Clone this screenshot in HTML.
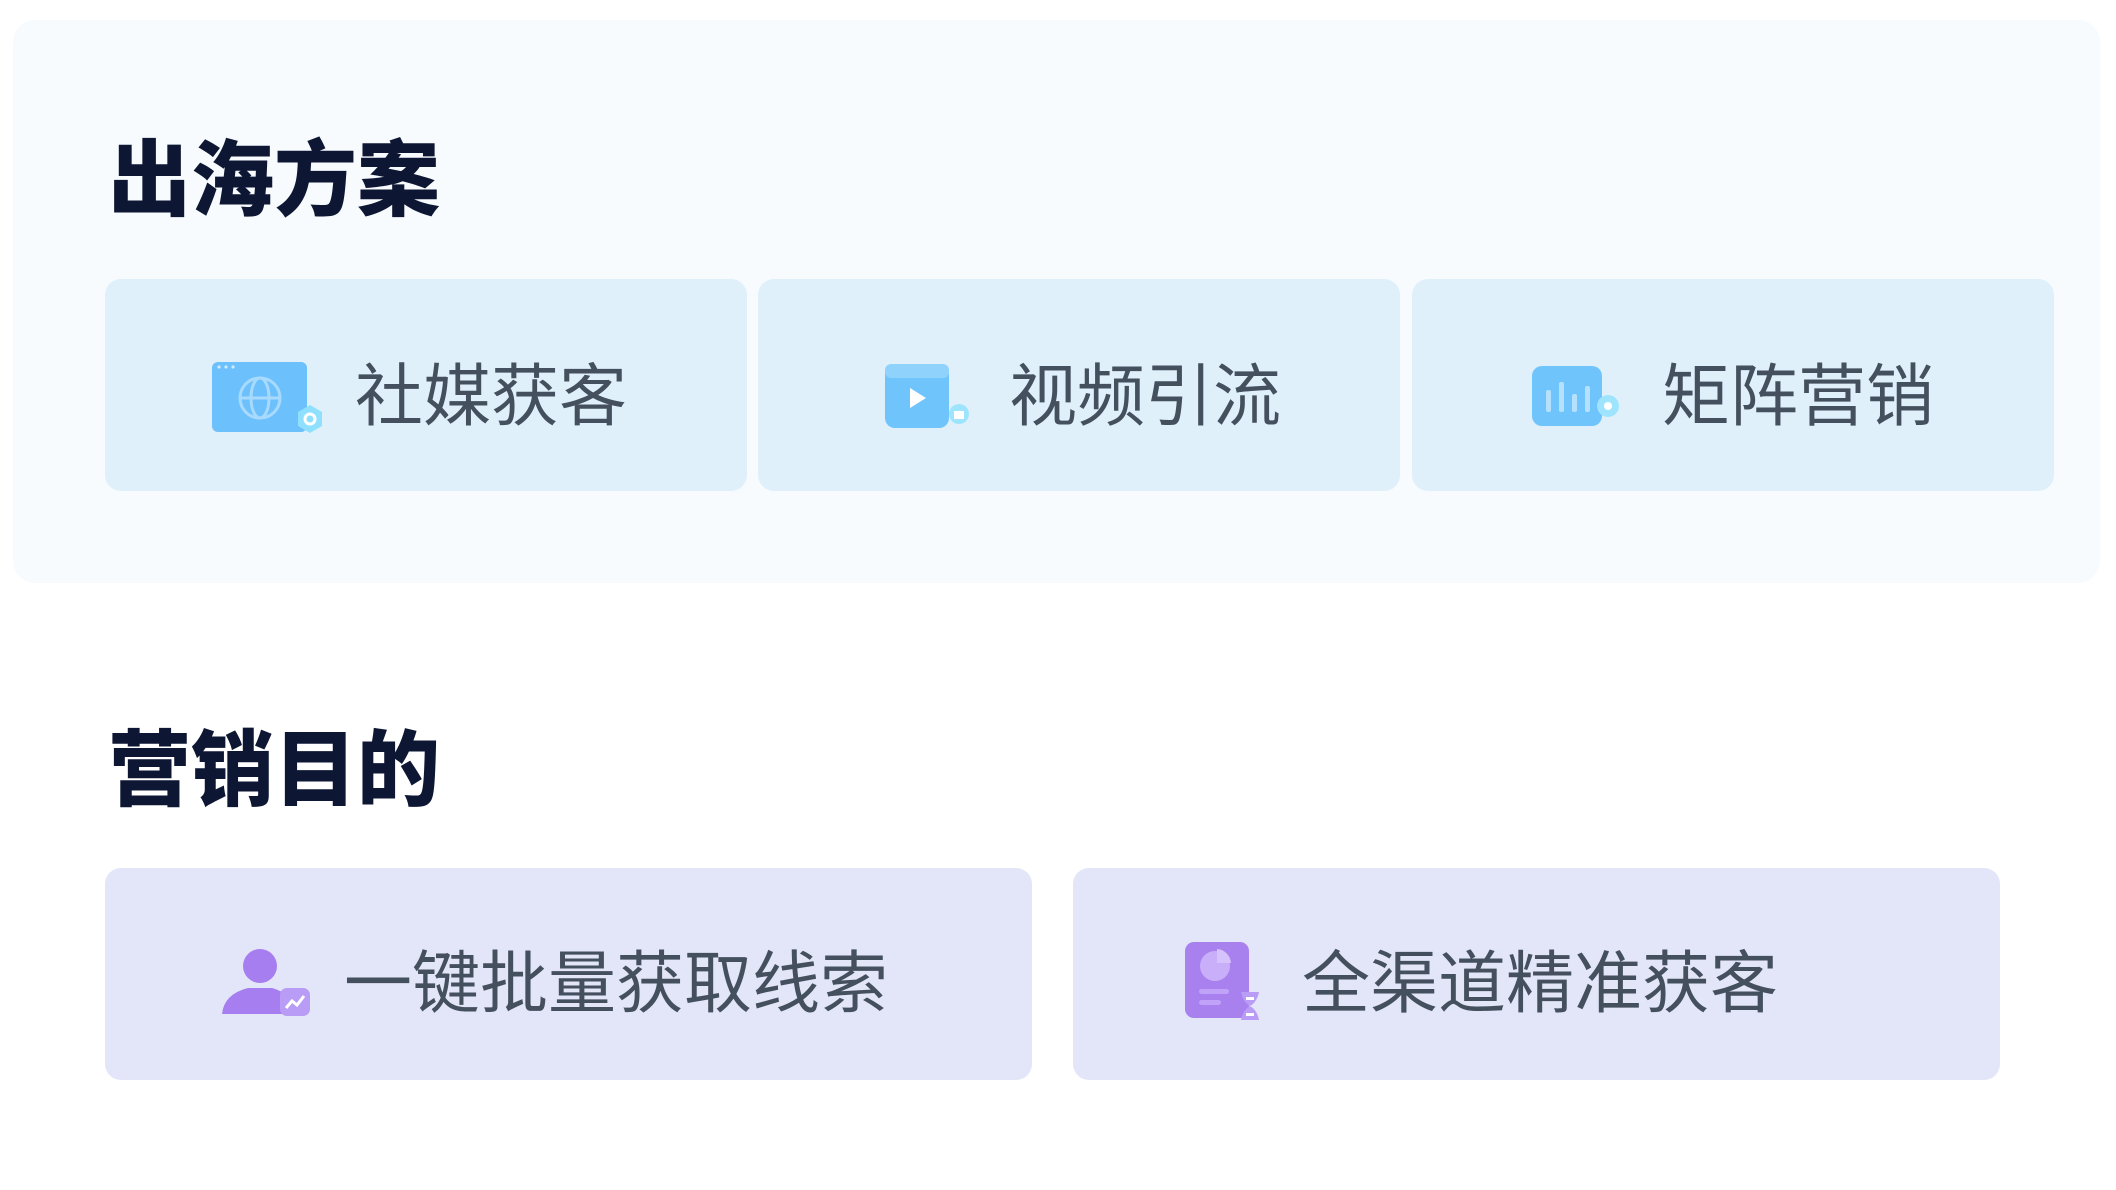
<!DOCTYPE html>
<html><head><meta charset="utf-8"><style>
*{margin:0;padding:0;box-sizing:border-box}
body{width:2116px;height:1190px;background:#fff;position:relative;overflow:hidden;font-family:"Liberation Sans","Noto Sans CJK SC",sans-serif}
.panel{position:absolute;left:13px;top:20px;width:2087px;height:563px;background:#f7fbfe;border-radius:22px}
.h{position:absolute;left:108px;font-size:83px;font-weight:900;color:#0d1633;line-height:1}
.card{position:absolute;border-radius:16px}
.b{background:#dff0fb;top:279px;height:212px;width:642px}
.p{background:#e3e6f8;top:868px;height:212px;width:927px}
.t{position:absolute;font-size:68px;color:#45505f;line-height:1;white-space:nowrap}
svg{position:absolute}
</style></head><body>
<div class="panel"></div>
<div class="h" style="top:139px">出海方案</div>
<div class="card b" style="left:105px"></div>
<div class="card b" style="left:758px"></div>
<div class="card b" style="left:1412px"></div>
<div class="h" style="top:729px">营销目的</div>
<div class="card p" style="left:105px"></div>
<div class="card p" style="left:1073px"></div>

<svg style="left:210px;top:360px" width="120" height="76" viewBox="0 0 120 76">
<rect x="2" y="2" width="95" height="70" rx="6" fill="#6cc0fb"/>
<circle cx="9" cy="7" r="1.6" fill="#cfeaff"/><circle cx="16" cy="7" r="1.6" fill="#cfeaff"/><circle cx="23" cy="7" r="1.6" fill="#cfeaff"/>
<circle cx="50" cy="38" r="20" fill="none" stroke="#a8dafd" stroke-width="3"/>
<ellipse cx="50" cy="38" rx="9" ry="20" fill="none" stroke="#a8dafd" stroke-width="3"/>
<line x1="30" y1="38" x2="70" y2="38" stroke="#a8dafd" stroke-width="3"/>
<polygon points="100,45 112,52 112,66 100,73 88,66 88,52" fill="#8fe0ff"/>
<circle cx="100" cy="59" r="5" fill="none" stroke="#fff" stroke-width="3"/>
</svg>
<div class="t" style="left:355px;top:363px">社媒获客</div>

<svg style="left:882px;top:362px" width="90" height="70" viewBox="0 0 90 70">
<rect x="3" y="2" width="64" height="64" rx="10" fill="#6fc4fb"/>
<rect x="3" y="2" width="64" height="14" rx="6" fill="#8fd2fc"/>
<polygon points="28,26 28,46 44,36" fill="#fff"/>
<circle cx="77" cy="52" r="10" fill="#9fe4ff"/>
<rect x="72" y="49" width="10" height="8" fill="#fff"/>
</svg>
<div class="t" style="left:1009px;top:363px">视频引流</div>

<svg style="left:1530px;top:364px" width="95" height="66" viewBox="0 0 95 66">
<rect x="2" y="2" width="70" height="60" rx="10" fill="#6fc4fb"/>
<rect x="16" y="26" width="5" height="22" rx="2" fill="#b5e1fd"/>
<rect x="29" y="18" width="5" height="30" rx="2" fill="#b5e1fd"/>
<rect x="42" y="30" width="5" height="18" rx="2" fill="#b5e1fd"/>
<rect x="55" y="22" width="5" height="26" rx="2" fill="#b5e1fd"/>
<circle cx="78" cy="42" r="11" fill="#9fe4ff"/><circle cx="78" cy="42" r="4" fill="#fff"/>
</svg>
<div class="t" style="left:1662px;top:363px">矩阵营销</div>

<svg style="left:218px;top:940px" width="95" height="80" viewBox="0 0 95 80">
<circle cx="42" cy="26" r="17" fill="#a77ef0"/>
<path d="M4 74 Q6 54 30 48 L54 48 Q76 54 80 74 Z" fill="#a77ef0"/>
<rect x="62" y="48" width="30" height="28" rx="7" fill="#b99cf5"/>
<polyline points="68,68 74,61 79,65 86,56" fill="none" stroke="#fff" stroke-width="3"/>
</svg>
<div class="t" style="left:344px;top:950px">一键批量获取线索</div>

<svg style="left:1183px;top:940px" width="82" height="82" viewBox="0 0 82 82">
<rect x="2" y="2" width="64" height="76" rx="9" fill="#a981ef"/>
<circle cx="32" cy="26" r="15" fill="#c9affa"/>
<path d="M34 9 A15 15 0 0 1 48 23 L34 23 Z" fill="#d6c3fc"/>
<rect x="16" y="49" width="30" height="5" rx="2.5" fill="#c0a3f8"/>
<rect x="16" y="60" width="22" height="5" rx="2.5" fill="#c0a3f8"/>
<path d="M58 52 L76 52 Q74 62 67 66 Q74 70 76 80 L58 80 Q60 70 67 66 Q60 62 58 52Z" fill="#b99cf5"/>
<rect x="63" y="57" width="8" height="3" fill="#fff"/><rect x="63" y="73" width="8" height="3" fill="#fff"/>
</svg>
<div class="t" style="left:1302px;top:950px">全渠道精准获客</div>
</body></html>
